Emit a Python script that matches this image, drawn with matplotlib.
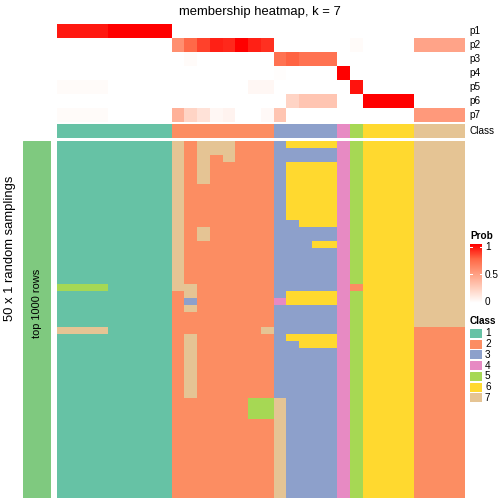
import numpy as np
import matplotlib
matplotlib.use("Agg")
import matplotlib.pyplot as plt
from matplotlib.colors import ListedColormap, LinearSegmentedColormap

plt.rcParams['font.family'] = ['Liberation Sans', 'DejaVu Sans']

W = H = 504

class_colors = ['#66C2A5', '#FC8D62', '#8DA0CB', '#E78AC3', '#A6D854', '#FFD92F', '#E5C494']
class_labels = ['1', '2', '3', '4', '5', '6', '7']

# consensus class of each column
col_class = [1]*9 + [2]*8 + [3]*5 + [4] + [5] + [6]*4 + [7]*4

# membership probabilities p1..p7 for the 32 columns
p1 = [0.94]*4 + [1.0]*5 + [0]*23
p2 = [0]*9 + [0.57, 0.74, 0.84, 0.92, 0.9, 1.0, 0.92, 0.88] + [0]*6 + [0.02] + [0]*4 + [0.47]*4
p3 = [0]*10 + [0.02] + [0]*6 + [0.7, 0.76, 0.7, 0.7, 0.7] + [0]*10
p4 = [0]*17 + [0.01] + [0]*4 + [1.0] + [0]*9
p5 = [0.02]*4 + [0]*11 + [0.04, 0.04] + [0]*6 + [0.95] + [0]*8
p6 = [0]*18 + [0.22, 0.3, 0.3, 0.3] + [0]*2 + [1.0]*4 + [0]*4
p7 = [0.02]*4 + [0]*5 + [0.4, 0.22, 0.15, 0.04, 0.06, 0, 0, 0.03] + [0.3] + [0]*10 + [0.52]*4
prob_names = ['p1', 'p2', 'p3', 'p4', 'p5', 'p6', 'p7']

# class assignment of each random sampling (rows) for each column
rows = [
    "111111111" "72777222" "36666" "4" "5" "6666" "7777",
    "111111111" "72777222" "33333" "4" "5" "6666" "7777",
    "111111111" "72727222" "33333" "4" "5" "6666" "7777",
    "111111111" "72722222" "36666" "4" "5" "6666" "7777",
    "111111111" "72722222" "36666" "4" "5" "6666" "7777",
    "111111111" "72722222" "36666" "4" "5" "6666" "7777",
    "111111111" "72222222" "36666" "4" "5" "6666" "7777",
    "111111111" "72222222" "36666" "4" "5" "6666" "7777",
    "111111111" "72222222" "36666" "4" "5" "6666" "7777",
    "111111111" "72222222" "36666" "4" "5" "6666" "7777",
    "111111111" "72222222" "36666" "4" "5" "6666" "7777",
    "111111111" "72222222" "33666" "4" "5" "6666" "7777",
    "111111111" "72722222" "33333" "4" "5" "6666" "7777",
    "111111111" "72722222" "33333" "4" "5" "6666" "7777",
    "111111111" "72222222" "33366" "4" "5" "6666" "7777",
    "111111111" "72222222" "33333" "4" "5" "6666" "7777",
    "111111111" "72222222" "33333" "4" "5" "6666" "7777",
    "111111111" "72222222" "33333" "4" "5" "6666" "7777",
    "111111111" "72222222" "33333" "4" "5" "6666" "7777",
    "111111111" "72222222" "33333" "4" "5" "6666" "7777",
    "555511111" "77222222" "33333" "4" "2" "6666" "7777",
    "111111111" "27222222" "36666" "4" "5" "6666" "7777",
    "111111111" "23222222" "46666" "4" "5" "6666" "7777",
    "111111111" "27222222" "33333" "4" "5" "6666" "7777",
    "111111111" "22222222" "33333" "4" "5" "6666" "7777",
    "111111111" "22222222" "33333" "4" "5" "6666" "7777",
    "777711111" "22222227" "33333" "4" "5" "6666" "2222",
    "111111111" "27222222" "36666" "4" "5" "6666" "2222",
    "111111111" "27222222" "33666" "4" "5" "6666" "2222",
] + ["111111111" "27222222" "33333" "4" "5" "6666" "2222"] * 7 \
  + ["111111111" "22222255" "73333" "4" "5" "6666" "2222"] * 3 \
  + ["111111111" "22222222" "73333" "4" "5" "6666" "2222"] * 11

mat = np.array([[int(c) for c in r] for r in rows])
prob = np.array([p1, p2, p3, p4, p5, p6, p7])

class_cmap = ListedColormap(class_colors)
prob_cmap = LinearSegmentedColormap.from_list(
    'prob', [(0, '#FFFFFF'), (0.25, '#FFCFBE'), (0.5, '#FF9E81'), (0.75, '#FF6846'), (1, '#FF0000')])


def px_axes(x0, y0, x1, y1):
    ax = fig.add_axes([x0 / W, 1 - y1 / H, (x1 - x0) / W, (y1 - y0) / H])
    ax.set_axis_off()
    return ax


fig = plt.figure(figsize=(W / 72, H / 72), dpi=72)

# probability annotation
ax = px_axes(57, 24, 465, 122)
ax.imshow(prob, cmap=prob_cmap, vmin=0, vmax=1, aspect='auto', interpolation='nearest')

# class annotation
ax = px_axes(57, 124, 465, 138)
ax.imshow(np.array([col_class]) - 1, cmap=class_cmap, vmin=-0.5, vmax=6.5,
          aspect='auto', interpolation='nearest')

# main heatmap
ax = px_axes(57, 141, 465, 498)
ax.imshow(mat - 1, cmap=class_cmap, vmin=-0.5, vmax=6.5, aspect='auto', interpolation='nearest')

# row split bar
ax = px_axes(23, 141, 51, 498)
ax.add_patch(plt.Rectangle((0, 0), 1, 1, color='#7FC97F'))
ax.set_xlim(0, 1)
ax.set_ylim(0, 1)

# texts
fig.text(260 / W, 1 - 12 / H, 'membership heatmap, k = 7', fontsize=13, ha='center', va='center')
fig.text(10 / W, 1 - 248 / H, '50 x 1 random samplings', fontsize=13, rotation=90,
         ha='center', va='center')
fig.text(37 / W, 1 - 303 / H, 'top 1000 rows', fontsize=11, rotation=90, ha='center', va='center')
for i, name in enumerate(prob_names):
    fig.text(469 / W, 1 - (31 + 14 * i) / H, name, fontsize=10, ha='left', va='center')
fig.text(469 / W, 1 - 131 / H, 'Class', fontsize=10, ha='left', va='center')

# probability legend
fig.text(470 / W, 1 - 236 / H, 'Prob', fontsize=10, fontweight='bold', ha='left', va='center')
ax = px_axes(470, 244, 482, 303)
grad = np.linspace(1, 0, 100).reshape(-1, 1)
ax.imshow(grad, cmap=prob_cmap, vmin=0, vmax=1, aspect='auto', extent=(0, 1, 0, 1))
for v in [1.0, 0.5]:
    yv = 0.05 + 0.9 * v
    ax.plot([0, 0.2], [yv, yv], color='white', lw=1)
    ax.plot([0.8, 1], [yv, yv], color='white', lw=1)
ax.set_xlim(0, 1)
ax.set_ylim(0, 1)
for ypos, lab in [(247, '1'), (275, '0.5'), (302, '0')]:
    fig.text(485 / W, 1 - ypos / H, lab, fontsize=10, ha='left', va='center')

# class legend
fig.text(470 / W, 1 - 321 / H, 'Class', fontsize=10, fontweight='bold', ha='left', va='center')
for i, (c, lab) in enumerate(zip(class_colors, class_labels)):
    top = 329 + 10.7 * i
    a = px_axes(470, top, 482, top + 9)
    a.add_patch(plt.Rectangle((0, 0), 1, 1, color=c))
    a.set_xlim(0, 1)
    a.set_ylim(0, 1)
    fig.text(485 / W, 1 - (top + 4.5) / H, lab, fontsize=10, ha='left', va='center')

fig.savefig('out.png', dpi=72)
